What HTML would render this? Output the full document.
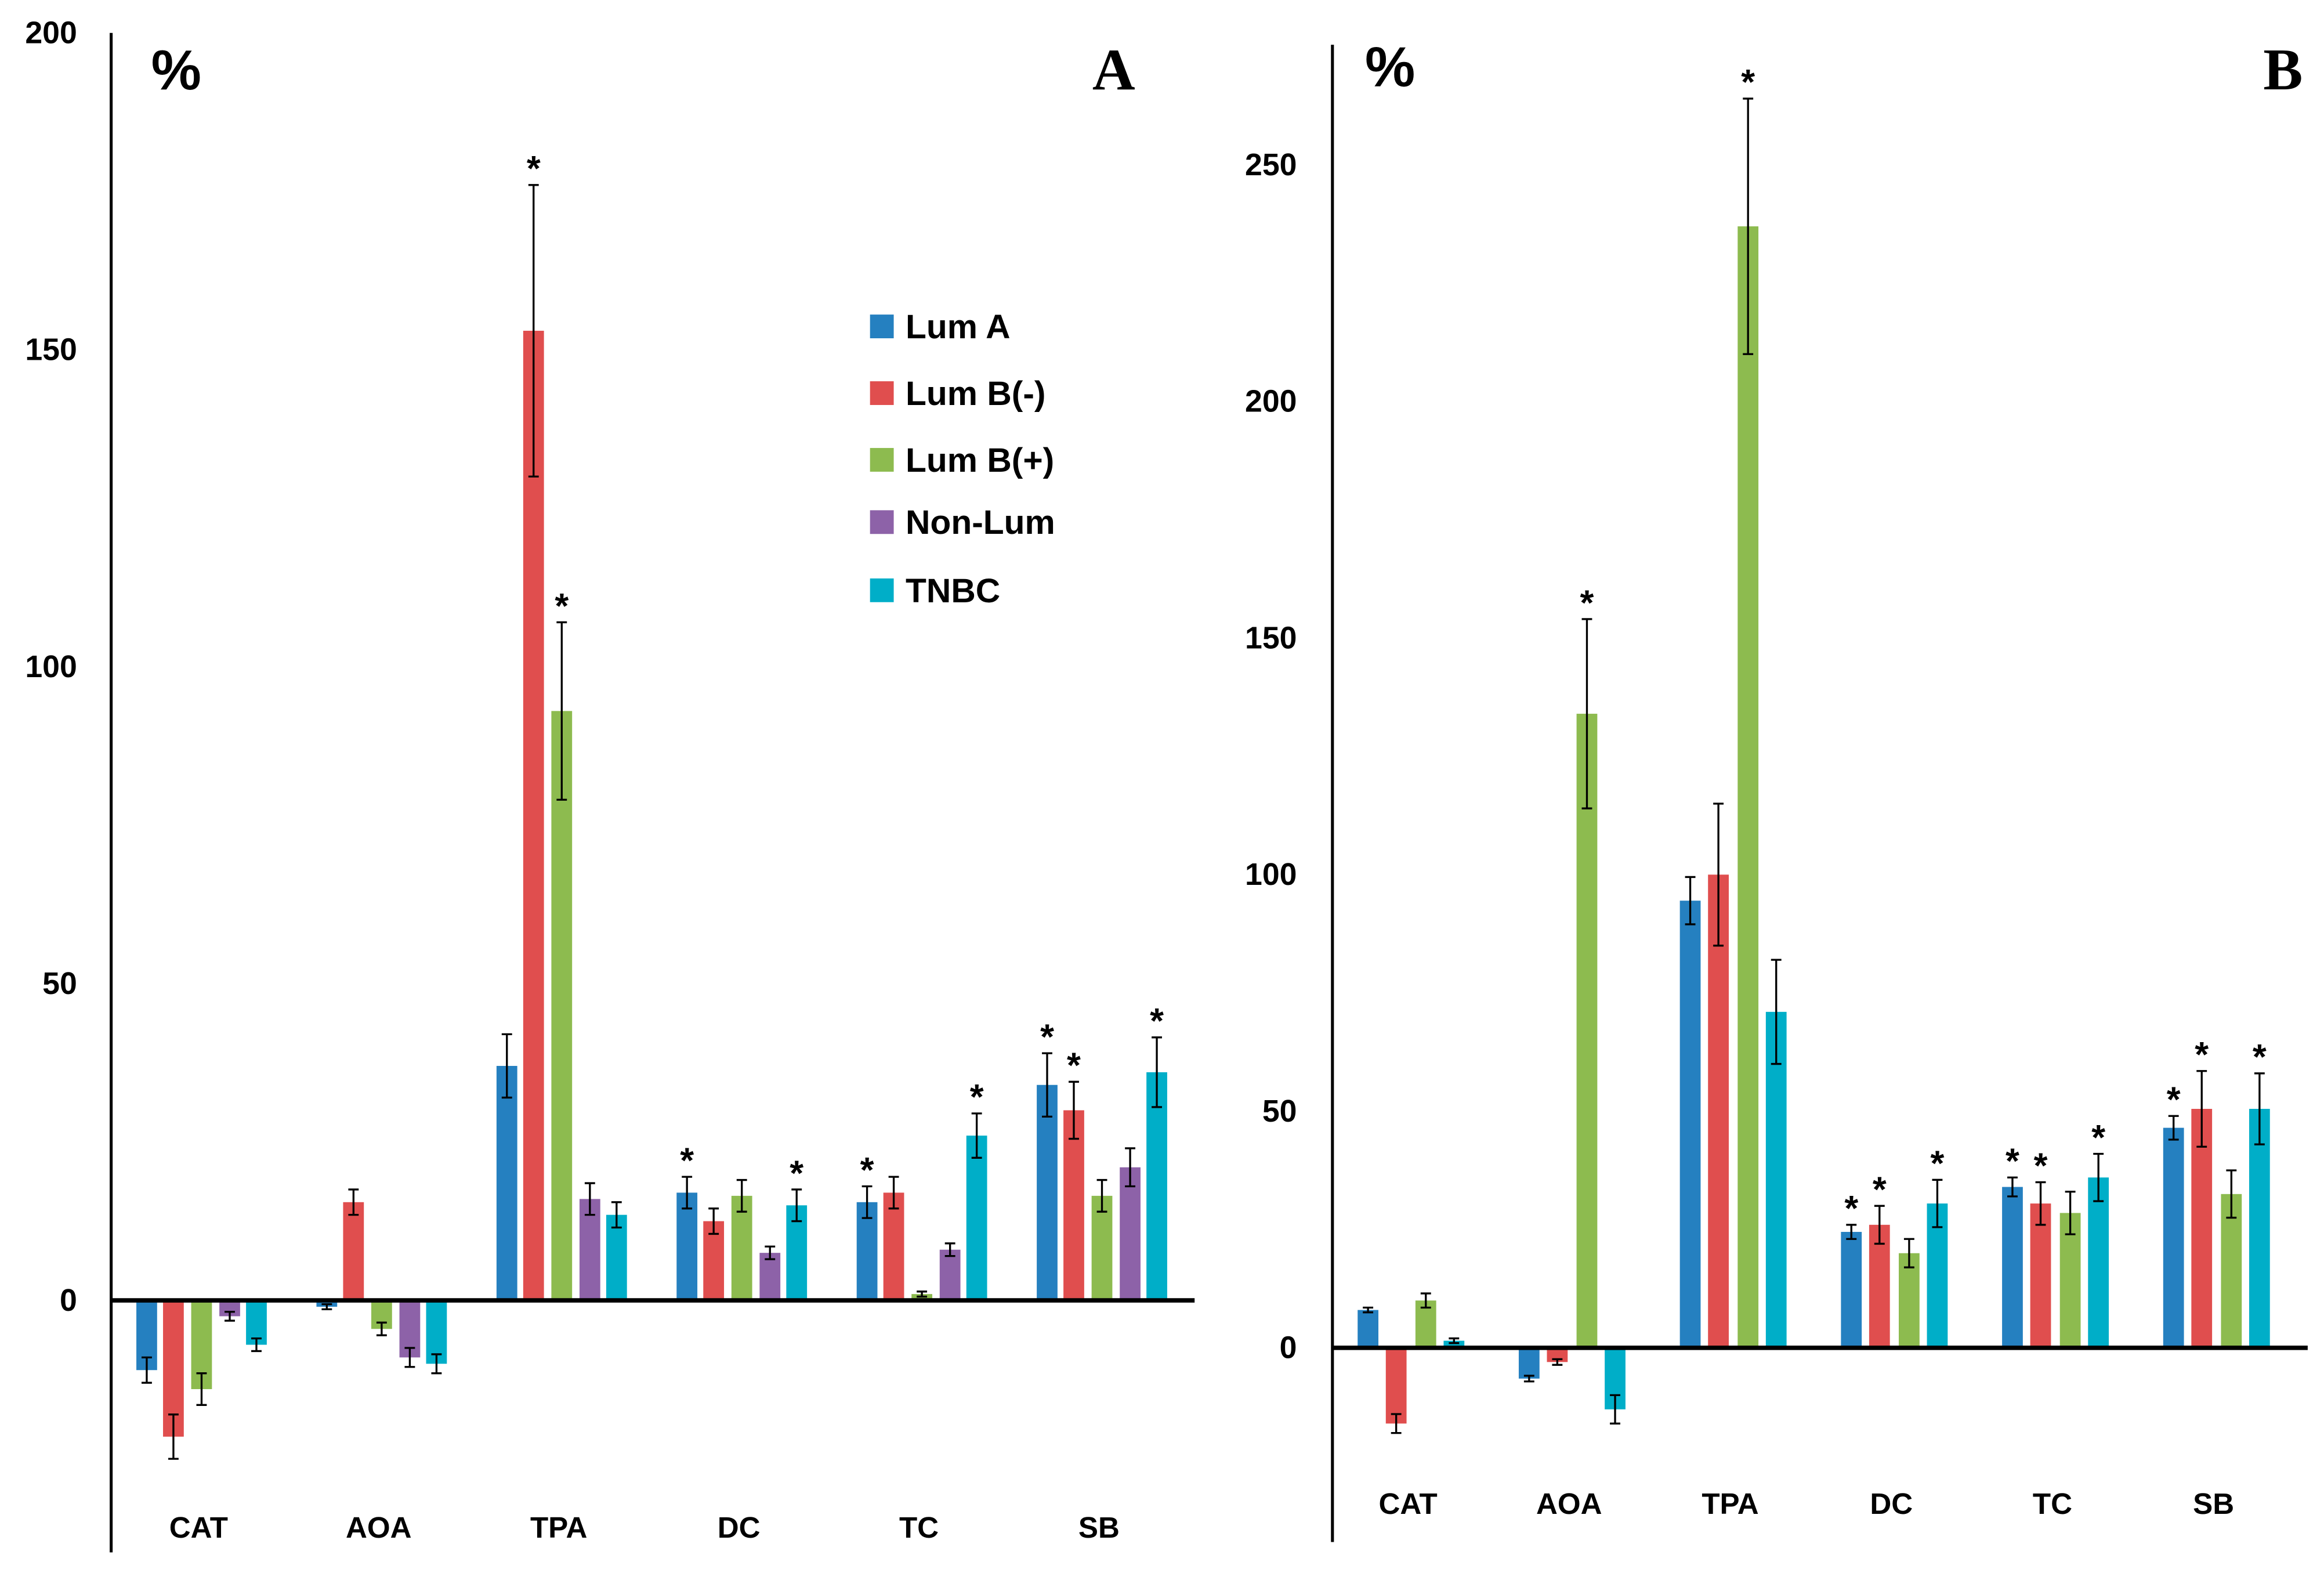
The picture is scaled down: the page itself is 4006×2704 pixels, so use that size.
<!DOCTYPE html>
<html><head><meta charset="utf-8"><style>
html,body{margin:0;padding:0;background:#fff;}
svg{display:block;}
text{font-family:"Liberation Sans",sans-serif;font-weight:bold;fill:#000;}
</style></head><body>
<svg id="chart" width="4006" height="2704" viewBox="0 0 1568 1058" xmlns="http://www.w3.org/2000/svg">
<g id="gA"></g>
<g id="gB"></g>
</svg>
<script>
const categories = ["CAT","AOA","TPA","DC","TC","SB"];
const seriesNames = ["Lum A","Lum B(-)","Lum B(+)","Non-Lum","TNBC"];
const colors = ["#2580c0","#e04e4e","#8dbb4f","#8d62a8","#00aec8"];
// Panel A values [series][category]
const aLumA   = [-11,-1,37,17,15.5,34];
const aLumBm  = [-21.5,15.5,153,12.5,17,30];
const aLumBp  = [-14,-4.5,93,16.5,1,16.5];
const aNonLum = [-2.5,-9,16,7.5,8,21];
const aTNBC   = [-7,-10,13.5,15,26,36];
const aErrLumA   = [2,0.4,5,2.5,2.5,5];
const aErrLumBm  = [3.5,2,23,2,2.5,4.5];
const aErrLumBp  = [2.5,1,14,2.5,0.4,2.5];
const aErrNonLum = [0.7,1.5,2.5,1,1,3];
const aErrTNBC   = [1,1.5,2,2.5,3.5,5.5];
const aStars = [[0,0,0,1,1,1],[0,0,1,0,0,1],[0,0,1,0,0,0],[0,0,0,0,0,0],[0,0,0,1,1,1]];
const aTicks = [0,50,100,150,200];
// Panel B values (no Non-Lum)
const bLumA  = [8,-6.5,94.5,24.5,34,46.5];
const bLumBm = [-16,-3,100,26,30.5,50.5];
const bLumBp = [10,134,237,20,28.5,32.5];
const bTNBC  = [1.5,-13,71,30.5,36,50.5];
const bErrLumA  = [0.5,0.6,5,1.5,2,2.5];
const bErrLumBm = [2,0.6,15,4,4.5,8];
const bErrLumBp = [1.5,20,27,3,4.5,5];
const bErrTNBC  = [0.5,3,11,5,5,7.5];
const bStars = [[0,0,0,1,1,1],[0,0,0,1,1,1],[0,1,1,0,0,0],[0,0,0,1,1,1]];
const bTicks = [0,50,100,150,200,250];

const NS="http://www.w3.org/2000/svg";
function mk(parent,tag,attrs,txt){const e=document.createElementNS(NS,tag);for(const k in attrs)e.setAttribute(k,attrs[k]);if(txt!==undefined)e.textContent=txt;parent.appendChild(e);return e;}

function panel(g,cfg){
  const y=v=>cfg.y0-v*cfg.ppu;
  cfg.series.forEach((vals,s)=>{
    vals.forEach((v,c)=>{
      const cx=cfg.cx0+c*cfg.cstep+cfg.offs[s];
      const top=Math.min(y(0),y(v)),h=Math.abs(y(v)-y(0));
      const r=mk(g,'rect',{x:cx-7,y:top,width:14,height:h,fill:colors[cfg.colIdx[s]]});
      
      
      const e=cfg.errs[s][c];
      const y1=y(v-e),y2=y(v+e);
      const eb=mk(g,'path',{d:`M${cx} ${y1}V${y2}M${cx-3.5} ${y1}H${cx+3.5}M${cx-3.5} ${y2}H${cx+3.5}`,stroke:'#000','stroke-width':1.3,fill:'none'});
      
      
      if(cfg.stars[s][c]){
        const st=mk(g,'text',{x:cx,y:Math.min(y2,y(0))-3,'text-anchor':'middle','font-size':24},'*');
        
        
      }
    });
  });
  const ax=mk(g,'line',{x1:cfg.ax,y1:cfg.axTop,x2:cfg.ax,y2:cfg.axBot,stroke:'#000','stroke-width':2});
  
  
  const zl=mk(g,'line',{x1:cfg.ax,y1:y(0),x2:cfg.xEnd,y2:y(0),stroke:'#000','stroke-width':3});
  
  
  cfg.ticks.forEach(t=>{
    const tl=mk(g,'text',{x:cfg.tickX,y:y(t)+7,'text-anchor':'end','font-size':21},String(t));
    
    
  });
  categories.forEach((c,i)=>{
    const cl=mk(g,'text',{x:cfg.cx0+i*cfg.cstep-2,y:cfg.catY,'text-anchor':'middle','font-size':20},c);
    
    
  });
}

const gA=document.getElementById('gA'),gB=document.getElementById('gB');
panel(gA,{y0:877,ppu:213.75/50,cx0:136,cstep:121.5,offs:[-37,-19,0,19,37],
  series:[aLumA,aLumBm,aLumBp,aNonLum,aTNBC],errs:[aErrLumA,aErrLumBm,aErrLumBp,aErrNonLum,aErrTNBC],
  stars:aStars,colIdx:[0,1,2,3,4],slug:['luma','lumb-neg','lumb-pos','nonlum','tnbc'],
  ax:75,axTop:22,axBot:1047,xEnd:806,ticks:aTicks,tickX:52,catY:1037});
panel(gB,{y0:909,ppu:159.6/50,cx0:952,cstep:108.7,offs:[-29,-10,10,29],
  series:[bLumA,bLumBm,bLumBp,bTNBC],errs:[bErrLumA,bErrLumBm,bErrLumBp,bErrTNBC],
  stars:bStars,colIdx:[0,1,2,4],slug:['luma','lumb-neg','lumb-pos','tnbc'],
  ax:899,axTop:30,axBot:1040,xEnd:1557,ticks:bTicks,tickX:875,catY:1021});

let t=mk(gA,'text',{x:102,y:60,'font-size':38},'%');


t=mk(gA,'text',{x:737,y:60,'font-size':40,style:'font-family:"Liberation Serif",serif'},'A');


t=mk(gB,'text',{x:921,y:58,'font-size':38},'%');


t=mk(gB,'text',{x:1527,y:60,'font-size':40,style:'font-family:"Liberation Serif",serif'},'B');



const lg=mk(gA,'g',{});


const ly=[220,265,310,352,398];
seriesNames.forEach((n,i)=>{
  const it=mk(lg,'g',{});
  
  
  mk(it,'rect',{x:587,y:ly[i]-8,width:16,height:16,fill:colors[i]});
  mk(it,'text',{x:611,y:ly[i]+8,'font-size':23},n);
});
</script>
</body></html>
